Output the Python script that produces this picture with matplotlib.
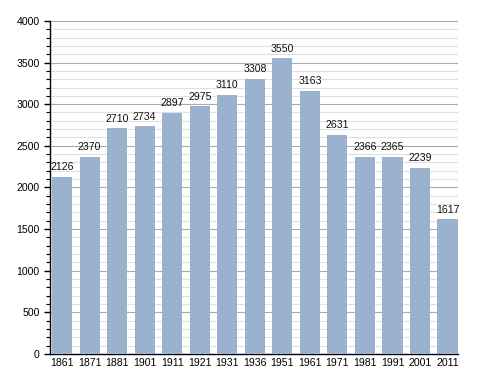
import matplotlib
matplotlib.use("Agg")
import matplotlib.pyplot as plt
from matplotlib.ticker import MultipleLocator

years = ["1861", "1871", "1881", "1901", "1911", "1921", "1931", "1936", "1951", "1961", "1971", "1981", "1991", "2001", "2011"]
population = [2126, 2370, 2710, 2734, 2897, 2975, 3110, 3308, 3550, 3163, 2631, 2366, 2365, 2239, 1617]

plt.rcParams['font.family'] = ['Liberation Sans', 'DejaVu Sans']
fig = plt.figure(figsize=(4.88, 3.73), dpi=100)
ax = fig.add_axes([0.1025, 0.051, 0.836, 0.893])

x = list(range(len(years)))
ax.bar(x, population, width=0.73, color="#9bb2cf", zorder=3)
for xi, v in zip(x, population):
    ax.text(xi, v + 55, str(v), ha="center", va="bottom", fontsize=7.6, color="#111111", zorder=4)

ax.set_xlim(-0.44, 14.38)
ax.set_ylim(0, 4000)
ax.set_xticks(x)
ax.set_xticklabels(years, fontsize=7.6)
ax.yaxis.set_major_locator(MultipleLocator(500))
ax.yaxis.set_minor_locator(MultipleLocator(100))
ax.tick_params(axis="y", labelsize=7.6, length=4, width=1, direction="out")
ax.tick_params(axis="y", which="minor", length=3, width=0.8)
ax.tick_params(axis="x", length=0, pad=3)
ax.grid(axis="y", which="major", color="#aaaaaa", linewidth=0.8, zorder=0)
ax.grid(axis="y", which="minor", color="#e0e0e0", linewidth=0.8, zorder=0)
for s in ["top", "right"]:
    ax.spines[s].set_visible(False)
ax.spines["left"].set_linewidth(1)
ax.spines["bottom"].set_linewidth(1)
fig.savefig("out.png", dpi=100)
